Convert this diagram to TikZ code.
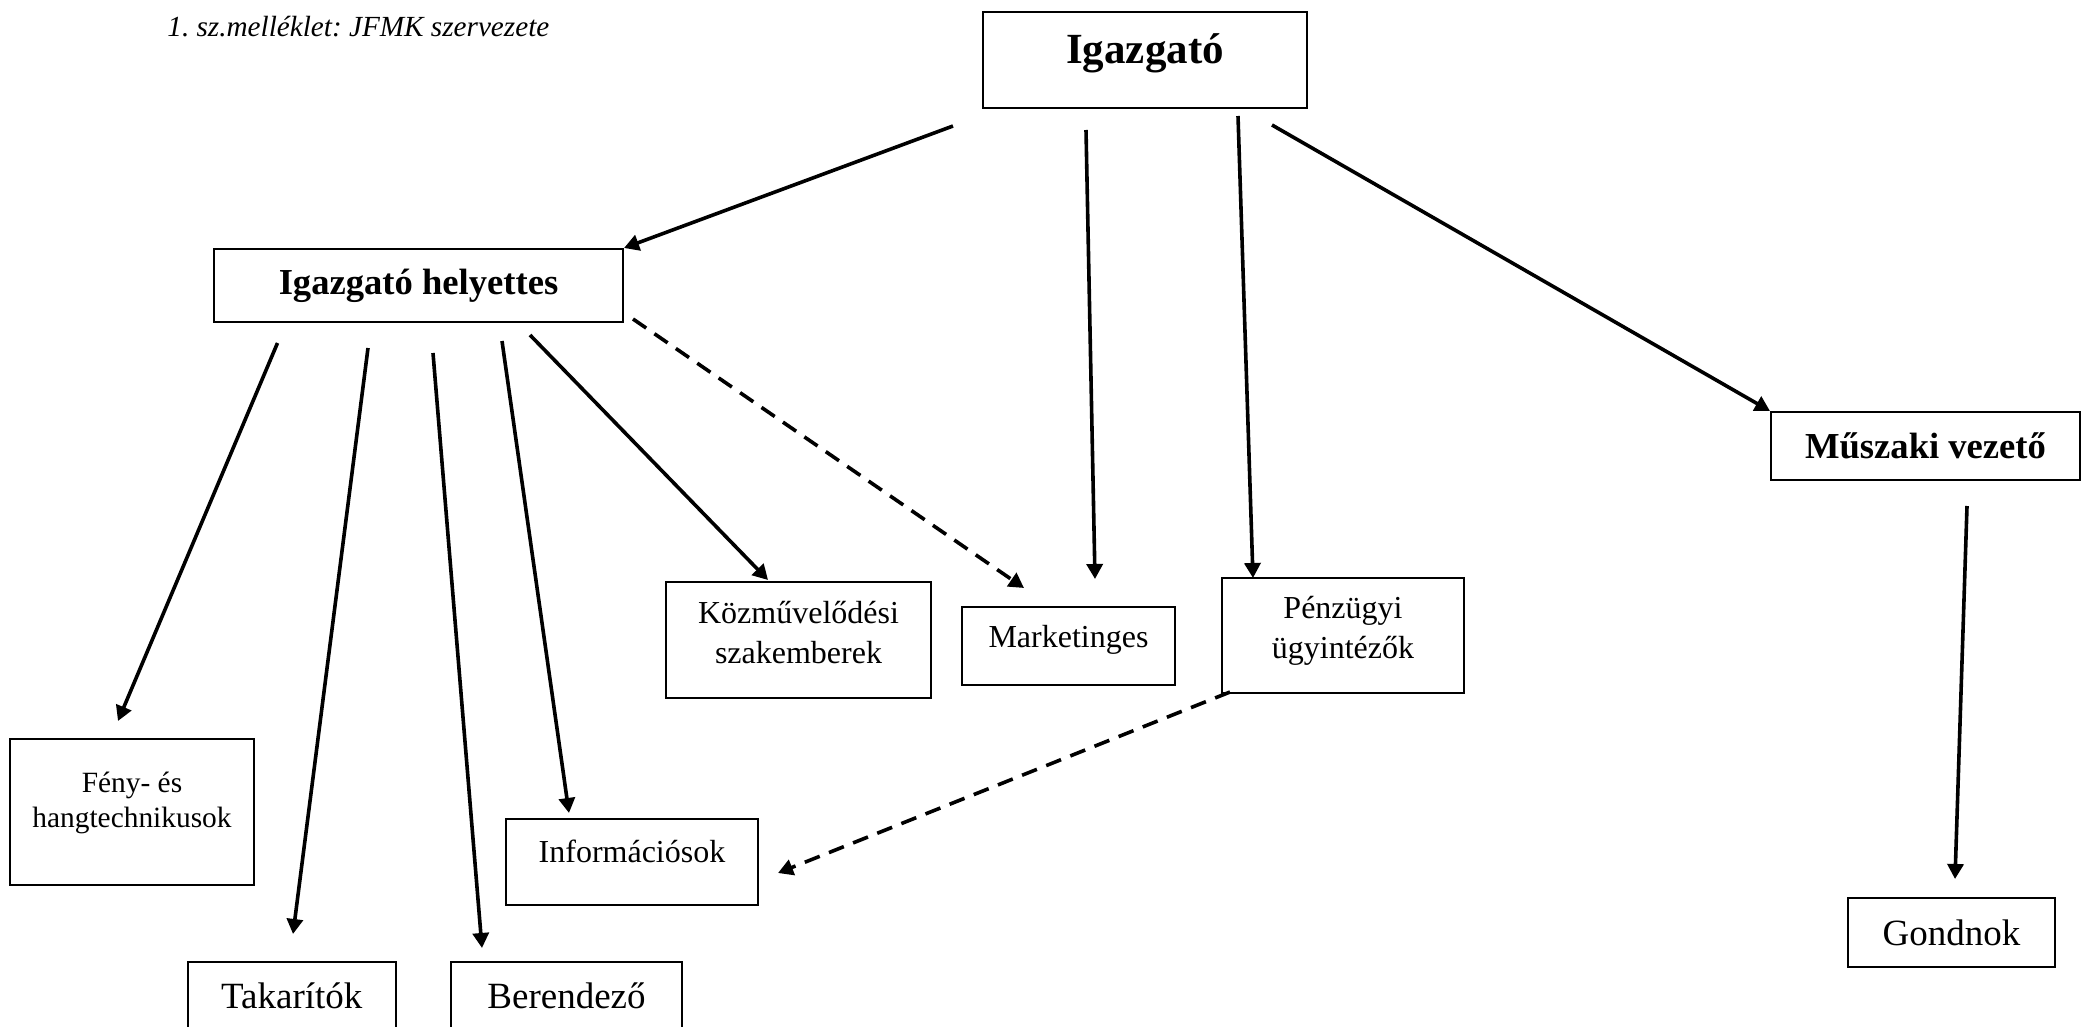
\documentclass[tikz,border=0pt]{standalone}
\usepackage{fontspec}
\setmainfont{Liberation Serif}
\usetikzlibrary{arrows.meta}
\frenchspacing
\newcommand{\lift}[1]{\vrule width 0pt height 0pt depth #1\relax}
\begin{document}
\begin{tikzpicture}[x=0.5pt,y=-0.5pt,
  box/.style={draw, line width=1pt, inner sep=0pt, align=center},
  arr/.style={line width=1.8pt, -{Triangle[length=7.5pt,width=8pt]}},
  darr/.style={arr, dash pattern=on 8pt off 5pt},
  topfont/.style={font=\bfseries\fontsize{21.5}{26}\selectfont},
  midbold/.style={font=\bfseries\fontsize{18.3}{22}\selectfont},
  bigreg/.style={font=\fontsize{18.5}{22}\selectfont},
  midreg/.style={font=\fontsize{16}{20}\selectfont},
  smallreg/.style={font=\fontsize{14.7}{17.5}\selectfont},
  capfont/.style={font=\itshape\fontsize{14.6}{17}\selectfont}
]
\useasboundingbox (0,0) rectangle (2082,1027);
\clip (0,0) rectangle (2082,1027);

% caption
\node[capfont, anchor=base west, inner sep=0pt] (cap) at (167,37) {1. sz.melléklet: JFMK szervezete};

% boxes
\node[box, topfont, minimum width=162pt, minimum height=48pt] (ig) at (1145,60) {Igazgató\lift{11pt}};
\node[box, midbold, minimum width=204.5pt, minimum height=36.5pt] (hel) at (418.5,285.5) {Igazgató helyettes};
\node[box, midbold, minimum width=154.5pt, minimum height=34pt] (mu) at (1925.5,446) {Műszaki vezető};
\node[box, bigreg, minimum width=103.5pt, minimum height=34.5pt] (go) at (1951.5,932.5) {Gondnok};
\node[box, smallreg, minimum width=122pt, minimum height=73pt] (feny) at (132,812) {Fény- és\\hangtechnikusok\lift{12pt}};
\node[box, bigreg, minimum width=104.25pt, minimum height=34pt] (tak) at (291.75,996) {Takarítók};
\node[box, bigreg, minimum width=115.5pt, minimum height=34pt] (ber) at (566.5,996) {Berendező};
\node[box, midreg, minimum width=126pt, minimum height=43pt] (inf) at (632,862) {Információsok\lift{11pt}};
\node[box, midreg, minimum width=132.5pt, minimum height=58pt] (koz) at (798.5,640) {Közművelődési\\szakemberek\lift{8pt}};
\node[box, midreg, minimum width=106.5pt, minimum height=39pt] (mar) at (1068.5,646) {Marketinges\lift{10pt}};
\node[box, midreg, minimum width=121pt, minimum height=57.5pt] (pen) at (1343,635.5) {Pénzügyi\\ügyintézők\lift{8pt}};

% connector end points
\coordinate (igA) at (953,126);
\coordinate (igB) at (1086,130);
\coordinate (igC) at (1238,116);
\coordinate (igD) at (1272,125);
\coordinate (marT) at (1095,579);
\coordinate (penT) at (1253,578);
\coordinate (muA) at (1967,506);
\coordinate (goT) at (1955,879);
\coordinate (helA) at (277.5,343);
\coordinate (fenyT) at (118,721);
\coordinate (helB) at (368,348);
\coordinate (takT) at (293,934);
\coordinate (helC) at (433,353);
\coordinate (berT) at (482,948);
\coordinate (helD) at (502,341);
\coordinate (infT) at (569,813);
\coordinate (helE) at (530,335);
\coordinate (kozT) at (768,580);
\coordinate (helF) at (633,319);
\coordinate (marL) at (1024,588);
\coordinate (penA) at (1230,692);
\coordinate (infR) at (778,873);

% connectors
\draw[arr] (igA) -- (hel.north east);
\draw[arr] (igB) -- (marT);
\draw[arr] (igC) -- (penT);
\draw[arr] (igD) -- (mu.north west);
\draw[arr] (muA) -- (goT);
\draw[arr] (helA) -- (fenyT);
\draw[arr] (helB) -- (takT);
\draw[arr] (helC) -- (berT);
\draw[arr] (helD) -- (infT);
\draw[arr] (helE) -- (kozT);
\draw[darr] (helF) -- (marL);
\draw[darr] (penA) -- (infR);
\end{tikzpicture}
\end{document}
